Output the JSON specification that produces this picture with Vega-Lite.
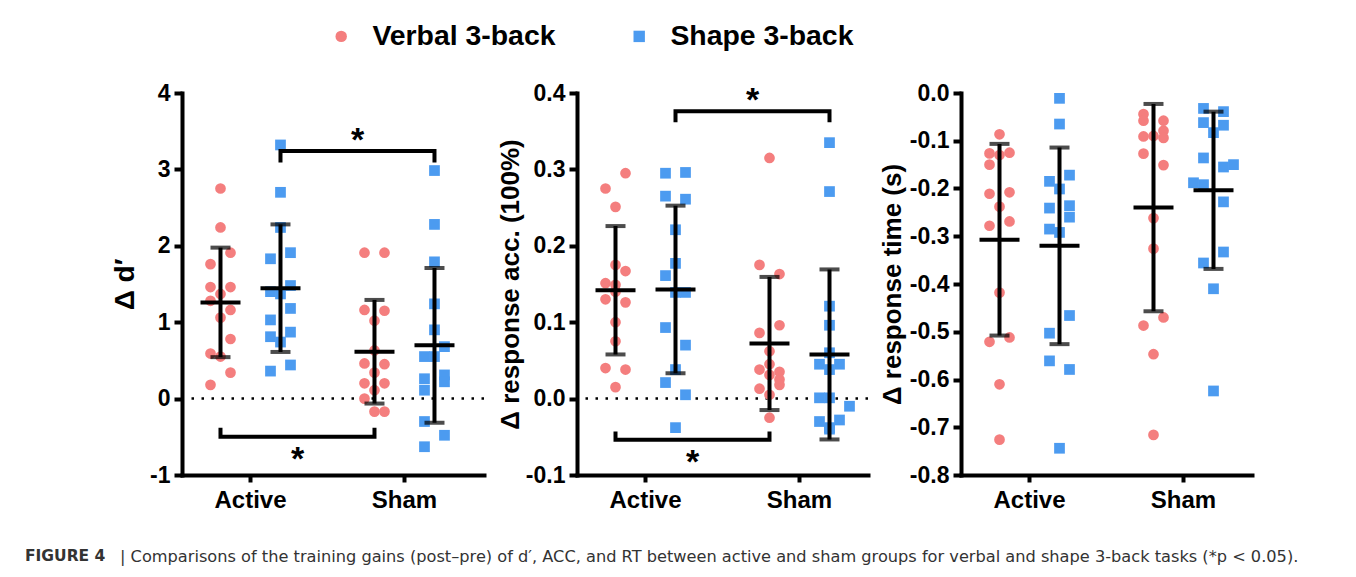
{
  "$schema": "https://vega.github.io/schema/vega-lite/v6.json",
  "background": "white",
  "padding": {"left": 25, "top": 22, "right": 10, "bottom": 10},
  "datasets": {
    "pts": [
      {"p":"d","g":"Active","t":"Verbal","c":"Verbal","v":2.75},
      {"p":"d","g":"Active","t":"Verbal","c":"Verbal","v":2.24},
      {"p":"d","g":"Active","t":"Verbal","c":"Verbal+1","v":1.91},
      {"p":"d","g":"Active","t":"Verbal","c":"Verbal-1","v":1.76},
      {"p":"d","g":"Active","t":"Verbal","c":"Verbal-1","v":1.46},
      {"p":"d","g":"Active","t":"Verbal","c":"Verbal+1","v":1.46},
      {"p":"d","g":"Active","t":"Verbal","c":"Verbal","v":1.37},
      {"p":"d","g":"Active","t":"Verbal","c":"Verbal-1","v":1.28},
      {"p":"d","g":"Active","t":"Verbal","c":"Verbal+1","v":1.16},
      {"p":"d","g":"Active","t":"Verbal","c":"Verbal","v":1.06},
      {"p":"d","g":"Active","t":"Verbal","c":"Verbal+1","v":0.78},
      {"p":"d","g":"Active","t":"Verbal","c":"Verbal-1","v":0.59},
      {"p":"d","g":"Active","t":"Verbal","c":"Verbal","v":0.55},
      {"p":"d","g":"Active","t":"Verbal","c":"Verbal+1","v":0.34},
      {"p":"d","g":"Active","t":"Verbal","c":"Verbal-1","v":0.18},
      {"p":"d","g":"Active","t":"Shape","c":"Shape","v":3.32},
      {"p":"d","g":"Active","t":"Shape","c":"Shape","v":2.70},
      {"p":"d","g":"Active","t":"Shape","c":"Shape","v":2.24},
      {"p":"d","g":"Active","t":"Shape","c":"Shape-1","v":1.83},
      {"p":"d","g":"Active","t":"Shape","c":"Shape+1","v":1.91},
      {"p":"d","g":"Active","t":"Shape","c":"Shape-1","v":1.40},
      {"p":"d","g":"Active","t":"Shape","c":"Shape+1","v":1.48},
      {"p":"d","g":"Active","t":"Shape","c":"Shape","v":1.37},
      {"p":"d","g":"Active","t":"Shape","c":"Shape+1","v":1.18},
      {"p":"d","g":"Active","t":"Shape","c":"Shape-1","v":1.03},
      {"p":"d","g":"Active","t":"Shape","c":"Shape+1","v":0.87},
      {"p":"d","g":"Active","t":"Shape","c":"Shape-1","v":0.81},
      {"p":"d","g":"Active","t":"Shape","c":"Shape","v":0.74},
      {"p":"d","g":"Active","t":"Shape","c":"Shape+1","v":0.44},
      {"p":"d","g":"Active","t":"Shape","c":"Shape-1","v":0.36},
      {"p":"d","g":"Sham","t":"Verbal","c":"Verbal-1","v":1.91},
      {"p":"d","g":"Sham","t":"Verbal","c":"Verbal+1","v":1.91},
      {"p":"d","g":"Sham","t":"Verbal","c":"Verbal-1","v":1.16},
      {"p":"d","g":"Sham","t":"Verbal","c":"Verbal+1","v":1.15},
      {"p":"d","g":"Sham","t":"Verbal","c":"Verbal","v":1.02},
      {"p":"d","g":"Sham","t":"Verbal","c":"Verbal","v":0.63},
      {"p":"d","g":"Sham","t":"Verbal","c":"Verbal-1","v":0.46},
      {"p":"d","g":"Sham","t":"Verbal","c":"Verbal+1","v":0.45},
      {"p":"d","g":"Sham","t":"Verbal","c":"Verbal","v":0.34},
      {"p":"d","g":"Sham","t":"Verbal","c":"Verbal-1","v":0.20},
      {"p":"d","g":"Sham","t":"Verbal","c":"Verbal+1","v":0.20},
      {"p":"d","g":"Sham","t":"Verbal","c":"Verbal","v":0.11},
      {"p":"d","g":"Sham","t":"Verbal","c":"Verbal-1","v":0.0},
      {"p":"d","g":"Sham","t":"Verbal","c":"Verbal","v":-0.17},
      {"p":"d","g":"Sham","t":"Verbal","c":"Verbal+1","v":-0.17},
      {"p":"d","g":"Sham","t":"Shape","c":"Shape","v":2.985},
      {"p":"d","g":"Sham","t":"Shape","c":"Shape","v":2.28},
      {"p":"d","g":"Sham","t":"Shape","c":"Shape","v":1.79},
      {"p":"d","g":"Sham","t":"Shape","c":"Shape","v":1.24},
      {"p":"d","g":"Sham","t":"Shape","c":"Shape","v":0.90},
      {"p":"d","g":"Sham","t":"Shape","c":"Shape+1","v":0.68},
      {"p":"d","g":"Sham","t":"Shape","c":"Shape-1","v":0.55},
      {"p":"d","g":"Sham","t":"Shape","c":"Shape","v":0.55},
      {"p":"d","g":"Sham","t":"Shape","c":"Shape+1","v":0.31},
      {"p":"d","g":"Sham","t":"Shape","c":"Shape-1","v":0.26},
      {"p":"d","g":"Sham","t":"Shape","c":"Shape+1","v":0.22},
      {"p":"d","g":"Sham","t":"Shape","c":"Shape-1","v":0.11},
      {"p":"d","g":"Sham","t":"Shape","c":"Shape-1","v":-0.30},
      {"p":"d","g":"Sham","t":"Shape","c":"Shape+1","v":-0.48},
      {"p":"d","g":"Sham","t":"Shape","c":"Shape-1","v":-0.63},

      {"p":"acc","g":"Active","t":"Verbal","c":"Verbal+1","v":0.295},
      {"p":"acc","g":"Active","t":"Verbal","c":"Verbal-1","v":0.275},
      {"p":"acc","g":"Active","t":"Verbal","c":"Verbal","v":0.251},
      {"p":"acc","g":"Active","t":"Verbal","c":"Verbal","v":0.175},
      {"p":"acc","g":"Active","t":"Verbal","c":"Verbal+1","v":0.167},
      {"p":"acc","g":"Active","t":"Verbal","c":"Verbal-1","v":0.151},
      {"p":"acc","g":"Active","t":"Verbal","c":"Verbal","v":0.149},
      {"p":"acc","g":"Active","t":"Verbal","c":"Verbal","v":0.14},
      {"p":"acc","g":"Active","t":"Verbal","c":"Verbal-1","v":0.130},
      {"p":"acc","g":"Active","t":"Verbal","c":"Verbal+1","v":0.126},
      {"p":"acc","g":"Active","t":"Verbal","c":"Verbal","v":0.100},
      {"p":"acc","g":"Active","t":"Verbal","c":"Verbal","v":0.075},
      {"p":"acc","g":"Active","t":"Verbal","c":"Verbal-1","v":0.040},
      {"p":"acc","g":"Active","t":"Verbal","c":"Verbal+1","v":0.038},
      {"p":"acc","g":"Active","t":"Verbal","c":"Verbal","v":0.015},
      {"p":"acc","g":"Active","t":"Shape","c":"Shape-1","v":0.295},
      {"p":"acc","g":"Active","t":"Shape","c":"Shape+1","v":0.296},
      {"p":"acc","g":"Active","t":"Shape","c":"Shape-1","v":0.265},
      {"p":"acc","g":"Active","t":"Shape","c":"Shape+1","v":0.261},
      {"p":"acc","g":"Active","t":"Shape","c":"Shape","v":0.221},
      {"p":"acc","g":"Active","t":"Shape","c":"Shape","v":0.177},
      {"p":"acc","g":"Active","t":"Shape","c":"Shape-1","v":0.161},
      {"p":"acc","g":"Active","t":"Shape","c":"Shape","v":0.139},
      {"p":"acc","g":"Active","t":"Shape","c":"Shape+1","v":0.139},
      {"p":"acc","g":"Active","t":"Shape","c":"Shape-1","v":0.093},
      {"p":"acc","g":"Active","t":"Shape","c":"Shape+1","v":0.070},
      {"p":"acc","g":"Active","t":"Shape","c":"Shape","v":0.038},
      {"p":"acc","g":"Active","t":"Shape","c":"Shape-1","v":0.021},
      {"p":"acc","g":"Active","t":"Shape","c":"Shape+1","v":0.005},
      {"p":"acc","g":"Active","t":"Shape","c":"Shape","v":-0.038},
      {"p":"acc","g":"Sham","t":"Verbal","c":"Verbal","v":0.315},
      {"p":"acc","g":"Sham","t":"Verbal","c":"Verbal-1","v":0.175},
      {"p":"acc","g":"Sham","t":"Verbal","c":"Verbal+1","v":0.163},
      {"p":"acc","g":"Sham","t":"Verbal","c":"Verbal-1","v":0.086},
      {"p":"acc","g":"Sham","t":"Verbal","c":"Verbal+1","v":0.096},
      {"p":"acc","g":"Sham","t":"Verbal","c":"Verbal","v":0.062},
      {"p":"acc","g":"Sham","t":"Verbal","c":"Verbal","v":0.045},
      {"p":"acc","g":"Sham","t":"Verbal","c":"Verbal-1","v":0.038},
      {"p":"acc","g":"Sham","t":"Verbal","c":"Verbal+1","v":0.035},
      {"p":"acc","g":"Sham","t":"Verbal","c":"Verbal","v":0.031},
      {"p":"acc","g":"Sham","t":"Verbal","c":"Verbal+1","v":0.025},
      {"p":"acc","g":"Sham","t":"Verbal","c":"Verbal+1","v":0.018},
      {"p":"acc","g":"Sham","t":"Verbal","c":"Verbal-1","v":0.013},
      {"p":"acc","g":"Sham","t":"Verbal","c":"Verbal","v":0.005},
      {"p":"acc","g":"Sham","t":"Verbal","c":"Verbal","v":-0.025},
      {"p":"acc","g":"Sham","t":"Shape","c":"Shape","v":0.335},
      {"p":"acc","g":"Sham","t":"Shape","c":"Shape","v":0.271},
      {"p":"acc","g":"Sham","t":"Shape","c":"Shape","v":0.121},
      {"p":"acc","g":"Sham","t":"Shape","c":"Shape","v":0.096},
      {"p":"acc","g":"Sham","t":"Shape","c":"Shape","v":0.06},
      {"p":"acc","g":"Sham","t":"Shape","c":"Shape-1","v":0.045},
      {"p":"acc","g":"Sham","t":"Shape","c":"Shape+1","v":0.045},
      {"p":"acc","g":"Sham","t":"Shape","c":"Shape","v":0.038},
      {"p":"acc","g":"Sham","t":"Shape","c":"Shape","v":0.001},
      {"p":"acc","g":"Sham","t":"Shape","c":"Shape-1","v":0.001},
      {"p":"acc","g":"Sham","t":"Shape","c":"Shape+2","v":-0.010},
      {"p":"acc","g":"Sham","t":"Shape","c":"Shape-1","v":-0.030},
      {"p":"acc","g":"Sham","t":"Shape","c":"Shape+1","v":-0.028},
      {"p":"acc","g":"Sham","t":"Shape","c":"Shape","v":-0.038},
      {"p":"acc","g":"Sham","t":"Shape","c":"Shape","v":-0.040},

      {"p":"rt","g":"Active","t":"Verbal","c":"Verbal","v":-0.0865},
      {"p":"rt","g":"Active","t":"Verbal","c":"Verbal-1","v":-0.1265},
      {"p":"rt","g":"Active","t":"Verbal","c":"Verbal+1","v":-0.125},
      {"p":"rt","g":"Active","t":"Verbal","c":"Verbal","v":-0.13},
      {"p":"rt","g":"Active","t":"Verbal","c":"Verbal-1","v":-0.15},
      {"p":"rt","g":"Active","t":"Verbal","c":"Verbal-1","v":-0.211},
      {"p":"rt","g":"Active","t":"Verbal","c":"Verbal+1","v":-0.208},
      {"p":"rt","g":"Active","t":"Verbal","c":"Verbal","v":-0.238},
      {"p":"rt","g":"Active","t":"Verbal","c":"Verbal-1","v":-0.278},
      {"p":"rt","g":"Active","t":"Verbal","c":"Verbal+1","v":-0.269},
      {"p":"rt","g":"Active","t":"Verbal","c":"Verbal","v":-0.418},
      {"p":"rt","g":"Active","t":"Verbal","c":"Verbal+1","v":-0.512},
      {"p":"rt","g":"Active","t":"Verbal","c":"Verbal-1","v":-0.521},
      {"p":"rt","g":"Active","t":"Verbal","c":"Verbal","v":-0.610},
      {"p":"rt","g":"Active","t":"Verbal","c":"Verbal","v":-0.726},
      {"p":"rt","g":"Active","t":"Shape","c":"Shape","v":-0.0112},
      {"p":"rt","g":"Active","t":"Shape","c":"Shape","v":-0.065},
      {"p":"rt","g":"Active","t":"Shape","c":"Shape-1","v":-0.185},
      {"p":"rt","g":"Active","t":"Shape","c":"Shape+1","v":-0.172},
      {"p":"rt","g":"Active","t":"Shape","c":"Shape","v":-0.201},
      {"p":"rt","g":"Active","t":"Shape","c":"Shape-1","v":-0.241},
      {"p":"rt","g":"Active","t":"Shape","c":"Shape+1","v":-0.236},
      {"p":"rt","g":"Active","t":"Shape","c":"Shape+1","v":-0.260},
      {"p":"rt","g":"Active","t":"Shape","c":"Shape-1","v":-0.285},
      {"p":"rt","g":"Active","t":"Shape","c":"Shape","v":-0.292},
      {"p":"rt","g":"Active","t":"Shape","c":"Shape+1","v":-0.466},
      {"p":"rt","g":"Active","t":"Shape","c":"Shape-1","v":-0.503},
      {"p":"rt","g":"Active","t":"Shape","c":"Shape-1","v":-0.561},
      {"p":"rt","g":"Active","t":"Shape","c":"Shape+1","v":-0.579},
      {"p":"rt","g":"Active","t":"Shape","c":"Shape","v":-0.744},
      {"p":"rt","g":"Sham","t":"Verbal","c":"Verbal-1","v":-0.0443},
      {"p":"rt","g":"Sham","t":"Verbal","c":"Verbal-1","v":-0.058},
      {"p":"rt","g":"Sham","t":"Verbal","c":"Verbal+1","v":-0.058},
      {"p":"rt","g":"Sham","t":"Verbal","c":"Verbal+1","v":-0.079},
      {"p":"rt","g":"Sham","t":"Verbal","c":"Verbal-1","v":-0.091},
      {"p":"rt","g":"Sham","t":"Verbal","c":"Verbal+1","v":-0.094},
      {"p":"rt","g":"Sham","t":"Verbal","c":"Verbal","v":-0.09},
      {"p":"rt","g":"Sham","t":"Verbal","c":"Verbal-1","v":-0.127},
      {"p":"rt","g":"Sham","t":"Verbal","c":"Verbal+1","v":-0.151},
      {"p":"rt","g":"Sham","t":"Verbal","c":"Verbal","v":-0.262},
      {"p":"rt","g":"Sham","t":"Verbal","c":"Verbal","v":-0.326},
      {"p":"rt","g":"Sham","t":"Verbal","c":"Verbal+1","v":-0.470},
      {"p":"rt","g":"Sham","t":"Verbal","c":"Verbal-1","v":-0.487},
      {"p":"rt","g":"Sham","t":"Verbal","c":"Verbal","v":-0.547},
      {"p":"rt","g":"Sham","t":"Verbal","c":"Verbal","v":-0.716},
      {"p":"rt","g":"Sham","t":"Shape","c":"Shape-1","v":-0.0323},
      {"p":"rt","g":"Sham","t":"Shape","c":"Shape+1","v":-0.039},
      {"p":"rt","g":"Sham","t":"Shape","c":"Shape-1","v":-0.062},
      {"p":"rt","g":"Sham","t":"Shape","c":"Shape+1","v":-0.0675},
      {"p":"rt","g":"Sham","t":"Shape","c":"Shape","v":-0.083},
      {"p":"rt","g":"Sham","t":"Shape","c":"Shape-1","v":-0.136},
      {"p":"rt","g":"Sham","t":"Shape","c":"Shape+1","v":-0.155},
      {"p":"rt","g":"Sham","t":"Shape","c":"Shape+2","v":-0.150},
      {"p":"rt","g":"Sham","t":"Shape","c":"Shape-2","v":-0.188},
      {"p":"rt","g":"Sham","t":"Shape","c":"Shape-1","v":-0.192},
      {"p":"rt","g":"Sham","t":"Shape","c":"Shape+1","v":-0.228},
      {"p":"rt","g":"Sham","t":"Shape","c":"Shape+1","v":-0.333},
      {"p":"rt","g":"Sham","t":"Shape","c":"Shape-1","v":-0.356},
      {"p":"rt","g":"Sham","t":"Shape","c":"Shape","v":-0.41},
      {"p":"rt","g":"Sham","t":"Shape","c":"Shape","v":-0.624}
    ],
    "br": [
      {"p":"d","b":"top","o":1,"g":"Active","t":"Shape","v":3.09},
      {"p":"d","b":"top","o":2,"g":"Active","t":"Shape","v":3.24},
      {"p":"d","b":"top","o":3,"g":"Sham","t":"Shape","v":3.24},
      {"p":"d","b":"top","o":4,"g":"Sham","t":"Shape","v":3.09},
      {"p":"d","b":"bot","o":1,"g":"Active","t":"Verbal","v":-0.38},
      {"p":"d","b":"bot","o":2,"g":"Active","t":"Verbal","v":-0.50},
      {"p":"d","b":"bot","o":3,"g":"Sham","t":"Verbal","v":-0.50},
      {"p":"d","b":"bot","o":4,"g":"Sham","t":"Verbal","v":-0.38},
      {"p":"acc","b":"top","o":1,"g":"Active","t":"Shape","v":0.3616},
      {"p":"acc","b":"top","o":2,"g":"Active","t":"Shape","v":0.376},
      {"p":"acc","b":"top","o":3,"g":"Sham","t":"Shape","v":0.376},
      {"p":"acc","b":"top","o":4,"g":"Sham","t":"Shape","v":0.3616},
      {"p":"acc","b":"bot","o":1,"g":"Active","t":"Verbal","v":-0.043},
      {"p":"acc","b":"bot","o":2,"g":"Active","t":"Verbal","v":-0.054},
      {"p":"acc","b":"bot","o":3,"g":"Sham","t":"Verbal","v":-0.054},
      {"p":"acc","b":"bot","o":4,"g":"Sham","t":"Verbal","v":-0.043}
    ],
    "st": [
      {"p":"d","g":"Active","t":"Shape","v":3.24},
      {"p":"d","g":"Active","t":"Verbal","v":-0.94},
      {"p":"acc","g":"Active","t":"Shape","v":0.376},
      {"p":"acc","g":"Active","t":"Verbal","v":-0.097}
    ]
  },
  "hconcat": [
    {
      "width": 302, "height": 382,
      "title": {"text": "|  Comparisons of the training gains (post–pre) of d′, ACC, and RT between active and sham groups for verbal and shape 3-back tasks (*p < 0.05).", "orient": "bottom", "anchor": "start", "frame": "group", "dx": -62, "offset": 37, "fontSize": 16.2, "fontWeight": "normal", "color": "#333333", "font": "DejaVu Sans", "limit": 1400},
      "layer": [
        {"data": {"values": [{}]}, "mark": {"type": "rule", "strokeDash": [2.5, 7.5], "strokeWidth": 2.5, "color": "black"},
         "encoding": {"y": {"datum": 0, "type": "quantitative"}}},
        {"data": {"name": "pts"}, "transform": [{"filter": "datum.p == 'd'"}],
         "mark": {"type": "point", "filled": true, "opacity": 1, "size": 115, "strokeWidth": 0},
         "encoding": {
           "x": {"field": "g", "type": "nominal", "scale": {"domain": ["Active","Sham"], "paddingInner": 0.2857, "paddingOuter": 0.1234, "align": 0.355}, "axis": {"title": null}},
           "xOffset": {"field": "c", "type": "nominal", "scale": {"domain": ["Verbal-2","Verbal-1","Verbal","Verbal+1","Verbal+2","gap","Shape-2","Shape-1","Shape","Shape+1","Shape+2"], "paddingInner": 0, "paddingOuter": 0}},
           "y": {"field": "v", "type": "quantitative", "scale": {"domain": [-1, 4], "nice": false, "zero": false}, "axis": {"title": "Δ d′", "titleFontSize": 28, "titlePadding": 10, "values": [-1,0,1,2,3,4], "labelExpr": "(datum.value < 0 ? '-' : '') + format(abs(datum.value), 'd')"}},
           "color": {"field": "t", "type": "nominal", "scale": {"domain": ["Verbal","Shape"], "range": ["#F47E7E","#4C9BF0"]}, "legend": {"title": null, "orient": "none", "legendX": 145, "legendY": -71, "direction": "horizontal", "columns": 2, "padding": 0, "labelExpr": "datum.label + ' 3-back'", "labelFontSize": 28.4, "labelFontWeight": "bold", "labelColor": "#000000", "labelFont": "Liberation Sans", "labelOffset": 17, "columnPadding": 69, "symbolSize": 130, "symbolStrokeWidth": 0, "labelLimit": 400}},
           "shape": {"field": "t", "type": "nominal", "scale": {"domain": ["Verbal","Shape"], "range": ["circle","square"]}, "legend": {"title": null, "orient": "none", "legendX": 145, "legendY": -71, "direction": "horizontal", "columns": 2, "padding": 0, "labelExpr": "datum.label + ' 3-back'", "labelFontSize": 28.4, "labelFontWeight": "bold", "labelColor": "#000000", "labelFont": "Liberation Sans", "labelOffset": 17, "columnPadding": 69, "symbolSize": 130, "symbolStrokeWidth": 0, "labelLimit": 400}}
         }},
        {"data": {"name": "br"}, "transform": [{"filter": "datum.p == 'd'"}],
         "mark": {"type": "line", "color": "black", "strokeWidth": 4, "strokeJoin": "miter"},
         "encoding": {
           "x": {"field": "g", "type": "nominal", "scale": {"domain": ["Active","Sham"], "paddingInner": 0.2857, "paddingOuter": 0.1234, "align": 0.355}, "axis": {"title": null}},
           "xOffset": {"field": "t", "type": "nominal", "scale": {"domain": ["Verbal-2","Verbal-1","Verbal","Verbal+1","Verbal+2","gap","Shape-2","Shape-1","Shape","Shape+1","Shape+2"], "paddingInner": 0, "paddingOuter": 0}},
           "y": {"field": "v", "type": "quantitative", "scale": {"domain": [-1, 4], "nice": false, "zero": false}, "axis": {"title": "Δ d′", "titleFontSize": 28, "titlePadding": 10, "values": [-1,0,1,2,3,4], "labelExpr": "(datum.value < 0 ? '-' : '') + format(abs(datum.value), 'd')"}},
           "detail": {"field": "b"},
           "order": {"field": "o"}
         }},
        {"data": {"name": "pts"}, "transform": [{"filter": "datum.p == 'd'"}],
         "mark": {"type": "errorbar", "extent": "stdev", "color": "black", "rule": {"strokeWidth": 4}, "ticks": {"size": 20, "thickness": 4, "color": "black"}},
         "encoding": {
           "x": {"field": "g", "type": "nominal", "scale": {"domain": ["Active","Sham"], "paddingInner": 0.2857, "paddingOuter": 0.1234, "align": 0.355}, "axis": {"title": null}},
           "xOffset": {"field": "t", "type": "nominal", "scale": {"domain": ["Verbal-2","Verbal-1","Verbal","Verbal+1","Verbal+2","gap","Shape-2","Shape-1","Shape","Shape+1","Shape+2"], "paddingInner": 0, "paddingOuter": 0}},
           "y": {"field": "v", "type": "quantitative", "scale": {"domain": [-1, 4], "nice": false, "zero": false}, "title": "Δ d′", "axis": {"title": "Δ d′", "titleFontSize": 28, "titlePadding": 10, "values": [-1,0,1,2,3,4], "labelExpr": "(datum.value < 0 ? '-' : '') + format(abs(datum.value), 'd')"}}
         }},
        {"data": {"name": "pts"}, "transform": [{"filter": "datum.p == 'd'"}],
         "mark": {"type": "tick", "size": 40, "thickness": 4, "color": "black", "opacity": 1},
         "encoding": {
           "x": {"field": "g", "type": "nominal", "scale": {"domain": ["Active","Sham"], "paddingInner": 0.2857, "paddingOuter": 0.1234, "align": 0.355}, "axis": {"title": null}},
           "xOffset": {"field": "t", "type": "nominal", "scale": {"domain": ["Verbal-2","Verbal-1","Verbal","Verbal+1","Verbal+2","gap","Shape-2","Shape-1","Shape","Shape+1","Shape+2"], "paddingInner": 0, "paddingOuter": 0}},
           "y": {"aggregate": "mean", "field": "v", "type": "quantitative", "scale": {"domain": [-1, 4], "nice": false, "zero": false}, "title": "Δ d′", "axis": {"title": "Δ d′", "titleFontSize": 28, "titlePadding": 10, "values": [-1,0,1,2,3,4], "labelExpr": "(datum.value < 0 ? '-' : '') + format(abs(datum.value), 'd')"}}
         }},
        {"data": {"name": "st"}, "transform": [{"filter": "datum.p == 'd'"}],
         "mark": {"type": "text", "text": "*", "fontSize": 34, "fontWeight": "bold", "font": "Liberation Sans", "color": "black", "dx": 77, "baseline": "alphabetic", "align": "center"},
         "encoding": {
           "x": {"field": "g", "type": "nominal", "scale": {"domain": ["Active","Sham"], "paddingInner": 0.2857, "paddingOuter": 0.1234, "align": 0.355}, "axis": {"title": null}},
           "xOffset": {"field": "t", "type": "nominal", "scale": {"domain": ["Verbal-2","Verbal-1","Verbal","Verbal+1","Verbal+2","gap","Shape-2","Shape-1","Shape","Shape+1","Shape+2"], "paddingInner": 0, "paddingOuter": 0}},
           "y": {"field": "v", "type": "quantitative", "scale": {"domain": [-1, 4], "nice": false, "zero": false}, "axis": {"title": "Δ d′", "titleFontSize": 28, "titlePadding": 10, "values": [-1,0,1,2,3,4], "labelExpr": "(datum.value < 0 ? '-' : '') + format(abs(datum.value), 'd')"}}
         }}
      ]
    },
    {
      "width": 291, "height": 382,
      "layer": [
        {"data": {"values": [{}]}, "mark": {"type": "rule", "strokeDash": [2.5, 7.5], "strokeWidth": 2.5, "color": "black"},
         "encoding": {"y": {"datum": 0, "type": "quantitative"}}},
        {"data": {"name": "pts"}, "transform": [{"filter": "datum.p == 'acc'"}],
         "mark": {"type": "point", "filled": true, "opacity": 1, "size": 115, "strokeWidth": 0},
         "encoding": {
           "x": {"field": "g", "type": "nominal", "scale": {"domain": ["Active","Sham"], "paddingInner": 0.2857, "paddingOuter": 0.0877}, "axis": {"title": null}},
           "xOffset": {"field": "c", "type": "nominal", "scale": {"domain": ["Verbal-2","Verbal-1","Verbal","Verbal+1","Verbal+2","gap","Shape-2","Shape-1","Shape","Shape+1","Shape+2"], "paddingInner": 0, "paddingOuter": 0}},
           "y": {"field": "v", "type": "quantitative", "scale": {"domain": [-0.1, 0.4], "nice": false, "zero": false}, "axis": {"title": "Δ response acc. (100%)", "titleFontSize": 26, "titlePadding": 2, "values": [-0.1,0,0.1,0.2,0.3,0.4], "labelExpr": "(datum.value < 0 ? '-' : '') + format(abs(datum.value), '.1f')"}},
           "color": {"field": "t", "type": "nominal", "scale": {"domain": ["Verbal","Shape"], "range": ["#F47E7E","#4C9BF0"]}, "legend": {"title": null, "orient": "none", "legendX": 145, "legendY": -71, "direction": "horizontal", "columns": 2, "padding": 0, "labelExpr": "datum.label + ' 3-back'", "labelFontSize": 28.4, "labelFontWeight": "bold", "labelColor": "#000000", "labelFont": "Liberation Sans", "labelOffset": 17, "columnPadding": 69, "symbolSize": 130, "symbolStrokeWidth": 0, "labelLimit": 400}},
           "shape": {"field": "t", "type": "nominal", "scale": {"domain": ["Verbal","Shape"], "range": ["circle","square"]}, "legend": {"title": null, "orient": "none", "legendX": 145, "legendY": -71, "direction": "horizontal", "columns": 2, "padding": 0, "labelExpr": "datum.label + ' 3-back'", "labelFontSize": 28.4, "labelFontWeight": "bold", "labelColor": "#000000", "labelFont": "Liberation Sans", "labelOffset": 17, "columnPadding": 69, "symbolSize": 130, "symbolStrokeWidth": 0, "labelLimit": 400}}
         }},
        {"data": {"name": "br"}, "transform": [{"filter": "datum.p == 'acc'"}],
         "mark": {"type": "line", "color": "black", "strokeWidth": 4, "strokeJoin": "miter"},
         "encoding": {
           "x": {"field": "g", "type": "nominal", "scale": {"domain": ["Active","Sham"], "paddingInner": 0.2857, "paddingOuter": 0.0877}, "axis": {"title": null}},
           "xOffset": {"field": "t", "type": "nominal", "scale": {"domain": ["Verbal-2","Verbal-1","Verbal","Verbal+1","Verbal+2","gap","Shape-2","Shape-1","Shape","Shape+1","Shape+2"], "paddingInner": 0, "paddingOuter": 0}},
           "y": {"field": "v", "type": "quantitative", "scale": {"domain": [-0.1, 0.4], "nice": false, "zero": false}, "axis": {"title": "Δ response acc. (100%)", "titleFontSize": 26, "titlePadding": 2, "values": [-0.1,0,0.1,0.2,0.3,0.4], "labelExpr": "(datum.value < 0 ? '-' : '') + format(abs(datum.value), '.1f')"}},
           "detail": {"field": "b"},
           "order": {"field": "o"}
         }},
        {"data": {"name": "pts"}, "transform": [{"filter": "datum.p == 'acc'"}],
         "mark": {"type": "errorbar", "extent": "stdev", "color": "black", "rule": {"strokeWidth": 4}, "ticks": {"size": 20, "thickness": 4, "color": "black"}},
         "encoding": {
           "x": {"field": "g", "type": "nominal", "scale": {"domain": ["Active","Sham"], "paddingInner": 0.2857, "paddingOuter": 0.0877}, "axis": {"title": null}},
           "xOffset": {"field": "t", "type": "nominal", "scale": {"domain": ["Verbal-2","Verbal-1","Verbal","Verbal+1","Verbal+2","gap","Shape-2","Shape-1","Shape","Shape+1","Shape+2"], "paddingInner": 0, "paddingOuter": 0}},
           "y": {"field": "v", "type": "quantitative", "scale": {"domain": [-0.1, 0.4], "nice": false, "zero": false}, "title": "Δ response acc. (100%)", "axis": {"title": "Δ response acc. (100%)", "titleFontSize": 26, "titlePadding": 2, "values": [-0.1,0,0.1,0.2,0.3,0.4], "labelExpr": "(datum.value < 0 ? '-' : '') + format(abs(datum.value), '.1f')"}}
         }},
        {"data": {"name": "pts"}, "transform": [{"filter": "datum.p == 'acc'"}],
         "mark": {"type": "tick", "size": 40, "thickness": 4, "color": "black", "opacity": 1},
         "encoding": {
           "x": {"field": "g", "type": "nominal", "scale": {"domain": ["Active","Sham"], "paddingInner": 0.2857, "paddingOuter": 0.0877}, "axis": {"title": null}},
           "xOffset": {"field": "t", "type": "nominal", "scale": {"domain": ["Verbal-2","Verbal-1","Verbal","Verbal+1","Verbal+2","gap","Shape-2","Shape-1","Shape","Shape+1","Shape+2"], "paddingInner": 0, "paddingOuter": 0}},
           "y": {"aggregate": "mean", "field": "v", "type": "quantitative", "scale": {"domain": [-0.1, 0.4], "nice": false, "zero": false}, "title": "Δ response acc. (100%)", "axis": {"title": "Δ response acc. (100%)", "titleFontSize": 26, "titlePadding": 2, "values": [-0.1,0,0.1,0.2,0.3,0.4], "labelExpr": "(datum.value < 0 ? '-' : '') + format(abs(datum.value), '.1f')"}}
         }},
        {"data": {"name": "st"}, "transform": [{"filter": "datum.p == 'acc'"}],
         "mark": {"type": "text", "text": "*", "fontSize": 34, "fontWeight": "bold", "font": "Liberation Sans", "color": "black", "dx": 77, "baseline": "alphabetic", "align": "center"},
         "encoding": {
           "x": {"field": "g", "type": "nominal", "scale": {"domain": ["Active","Sham"], "paddingInner": 0.2857, "paddingOuter": 0.0877}, "axis": {"title": null}},
           "xOffset": {"field": "t", "type": "nominal", "scale": {"domain": ["Verbal-2","Verbal-1","Verbal","Verbal+1","Verbal+2","gap","Shape-2","Shape-1","Shape","Shape+1","Shape+2"], "paddingInner": 0, "paddingOuter": 0}},
           "y": {"field": "v", "type": "quantitative", "scale": {"domain": [-0.1, 0.4], "nice": false, "zero": false}, "axis": {"title": "Δ response acc. (100%)", "titleFontSize": 26, "titlePadding": 2, "values": [-0.1,0,0.1,0.2,0.3,0.4], "labelExpr": "(datum.value < 0 ? '-' : '') + format(abs(datum.value), '.1f')"}}
         }}
      ]
    },
    {
      "width": 291, "height": 382,
      "layer": [
        {"data": {"name": "pts"}, "transform": [{"filter": "datum.p == 'rt'"}],
         "mark": {"type": "point", "filled": true, "opacity": 1, "size": 115, "strokeWidth": 0},
         "encoding": {
           "x": {"field": "g", "type": "nominal", "scale": {"domain": ["Active","Sham"], "paddingInner": 0.2857, "paddingOuter": 0.0877}, "axis": {"title": null}},
           "xOffset": {"field": "c", "type": "nominal", "scale": {"domain": ["Verbal-2","Verbal-1","Verbal","Verbal+1","Verbal+2","gap","Shape-2","Shape-1","Shape","Shape+1","Shape+2"], "paddingInner": 0, "paddingOuter": 0}},
           "y": {"field": "v", "type": "quantitative", "scale": {"domain": [-0.8, 0], "nice": false, "zero": false}, "axis": {"title": "Δ response time (s)", "titleFontSize": 26, "titlePadding": 4, "values": [-0.8,-0.7,-0.6,-0.5,-0.4,-0.3,-0.2,-0.1,0], "labelExpr": "(datum.value < -0.00001 ? '-' : '') + format(abs(datum.value), '.1f')"}},
           "color": {"field": "t", "type": "nominal", "scale": {"domain": ["Verbal","Shape"], "range": ["#F47E7E","#4C9BF0"]}, "legend": {"title": null, "orient": "none", "legendX": 145, "legendY": -71, "direction": "horizontal", "columns": 2, "padding": 0, "labelExpr": "datum.label + ' 3-back'", "labelFontSize": 28.4, "labelFontWeight": "bold", "labelColor": "#000000", "labelFont": "Liberation Sans", "labelOffset": 17, "columnPadding": 69, "symbolSize": 130, "symbolStrokeWidth": 0, "labelLimit": 400}},
           "shape": {"field": "t", "type": "nominal", "scale": {"domain": ["Verbal","Shape"], "range": ["circle","square"]}, "legend": {"title": null, "orient": "none", "legendX": 145, "legendY": -71, "direction": "horizontal", "columns": 2, "padding": 0, "labelExpr": "datum.label + ' 3-back'", "labelFontSize": 28.4, "labelFontWeight": "bold", "labelColor": "#000000", "labelFont": "Liberation Sans", "labelOffset": 17, "columnPadding": 69, "symbolSize": 130, "symbolStrokeWidth": 0, "labelLimit": 400}}
         }},
        {"data": {"name": "pts"}, "transform": [{"filter": "datum.p == 'rt'"}],
         "mark": {"type": "errorbar", "extent": "stdev", "color": "black", "rule": {"strokeWidth": 4}, "ticks": {"size": 20, "thickness": 4, "color": "black"}},
         "encoding": {
           "x": {"field": "g", "type": "nominal", "scale": {"domain": ["Active","Sham"], "paddingInner": 0.2857, "paddingOuter": 0.0877}, "axis": {"title": null}},
           "xOffset": {"field": "t", "type": "nominal", "scale": {"domain": ["Verbal-2","Verbal-1","Verbal","Verbal+1","Verbal+2","gap","Shape-2","Shape-1","Shape","Shape+1","Shape+2"], "paddingInner": 0, "paddingOuter": 0}},
           "y": {"field": "v", "type": "quantitative", "scale": {"domain": [-0.8, 0], "nice": false, "zero": false}, "title": "Δ response time (s)", "axis": {"title": "Δ response time (s)", "titleFontSize": 26, "titlePadding": 4, "values": [-0.8,-0.7,-0.6,-0.5,-0.4,-0.3,-0.2,-0.1,0], "labelExpr": "(datum.value < -0.00001 ? '-' : '') + format(abs(datum.value), '.1f')"}}
         }},
        {"data": {"name": "pts"}, "transform": [{"filter": "datum.p == 'rt'"}],
         "mark": {"type": "tick", "size": 40, "thickness": 4, "color": "black", "opacity": 1},
         "encoding": {
           "x": {"field": "g", "type": "nominal", "scale": {"domain": ["Active","Sham"], "paddingInner": 0.2857, "paddingOuter": 0.0877}, "axis": {"title": null}},
           "xOffset": {"field": "t", "type": "nominal", "scale": {"domain": ["Verbal-2","Verbal-1","Verbal","Verbal+1","Verbal+2","gap","Shape-2","Shape-1","Shape","Shape+1","Shape+2"], "paddingInner": 0, "paddingOuter": 0}},
           "y": {"aggregate": "mean", "field": "v", "type": "quantitative", "scale": {"domain": [-0.8, 0], "nice": false, "zero": false}, "title": "Δ response time (s)", "axis": {"title": "Δ response time (s)", "titleFontSize": 26, "titlePadding": 4, "values": [-0.8,-0.7,-0.6,-0.5,-0.4,-0.3,-0.2,-0.1,0], "labelExpr": "(datum.value < -0.00001 ? '-' : '') + format(abs(datum.value), '.1f')"}}
         }}
      ]
    }
  ],
  "spacing": 93,
  "bounds": "flush",
  "title": {"text": "FIGURE 4", "orient": "bottom", "anchor": "start", "frame": "group", "dx": -157, "dy": -16, "offset": 0, "fontSize": 15.5, "fontWeight": "bold", "color": "#333333", "font": "DejaVu Sans"},
  "config": {
    "font": "Liberation Sans",
    "view": {"stroke": null},
    "axis": {"domainColor": "#000000", "domainWidth": 4, "domainCap": "square", "tickColor": "#000000", "tickWidth": 4, "labelColor": "#000000", "labelFontWeight": "bold", "labelFont": "Liberation Sans", "titleFont": "Liberation Sans", "titleColor": "#000000", "titleFontWeight": "bold", "grid": false},
    "axisX": {"labelFontSize": 24, "tickSize": 7, "labelPadding": 6, "labelAngle": 0},
    "axisY": {"labelFontSize": 23, "tickSize": 8, "labelPadding": 4}
  }
}
